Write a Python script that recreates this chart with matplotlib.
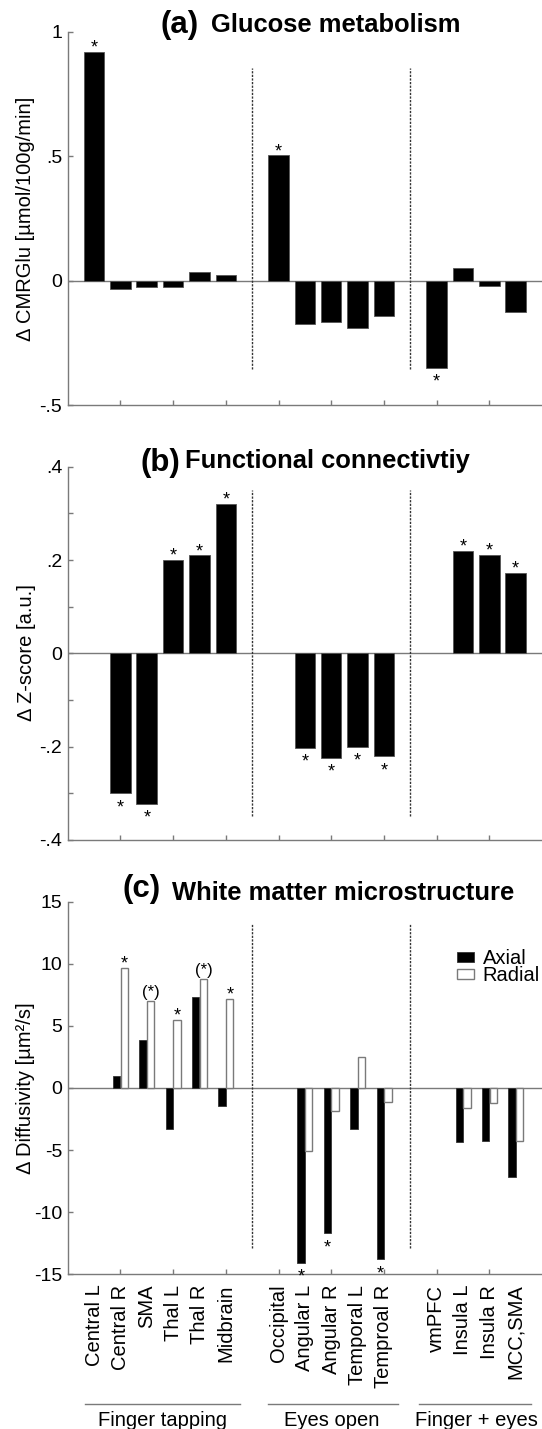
import numpy as np
import matplotlib
matplotlib.use("Agg")
import matplotlib.pyplot as plt
from matplotlib.transforms import blended_transform_factory
from matplotlib.patches import Patch

plt.rcParams['font.family'] = ['Liberation Sans', 'DejaVu Sans']

# Regions and their groups
regions = ["Central L", "Central R", "SMA", "Thal L", "Thal R", "Midbrain",
           "Occipital", "Angular L", "Angular R", "Temporal L", "Temproal R",
           "vmPFC", "Insula L", "Insula R", "MCC,SMA"]
groups = ["Finger tapping", "Eyes open", "Finger + eyes"]
group_sizes = [6, 5, 4]

# (a) glucose metabolism, delta CMRGlu
glucose = [0.918, -0.032, -0.025, -0.025, 0.037, 0.024,
           0.503, -0.173, -0.167, -0.190, -0.140,
           -0.349, 0.051, -0.023, -0.126]
glucose_sig = ["*", "", "", "", "", "",
               "*", "", "", "", "",
               "*", "", "", ""]

# (b) functional connectivity, delta z-score
fc = [np.nan, -0.300, -0.322, 0.200, 0.210, 0.321,
      np.nan, -0.202, -0.224, -0.200, -0.221,
      np.nan, 0.220, 0.211, 0.172]
fc_sig = ["", "*", "*", "*", "*", "*",
          "", "*", "*", "*", "*",
          "", "*", "*", "*"]

# (c) white matter, axial / radial diffusivity
axial = [np.nan, 1.0, 3.83, -3.33, 7.3, -1.47,
         np.nan, -14.1, -11.7, -3.33, -13.8,
         np.nan, -4.34, -4.26, -7.13]
radial = [np.nan, 9.65, 7.03, 5.47, 8.77, 7.18,
          np.nan, -5.07, -1.82, 2.47, -1.13,
          np.nan, -1.61, -1.18, -4.26]
axial_sig = ["", "", "", "", "", "",
             "", "*", "*", "", "*",
             "", "", "", ""]
radial_sig = ["", "*", "(*)", "*", "(*)", "*",
              "", "", "", "", "",
              "", "", "", ""]

# x positions: a gap between each group
pos = []
start = 1
for n in group_sizes:
    pos += list(range(start, start + n))
    start += n + 1
pos = np.array(pos, dtype=float)
sep = [7, 13]

GRAY = "#7a7a7a"

fig = plt.figure(figsize=(5.42, 14.29), dpi=100)
W, H = 542.0, 1429.0
left, width = 67.7 / W, 1 - 67.7 / W
ax_a = fig.add_axes([left, 1 - 405.3 / H, width, 373.6 / H])
ax_b = fig.add_axes([left, 1 - 840.0 / H, width, 373.3 / H])
ax_c = fig.add_axes([left, 1 - 1274.3 / H, width, 372.6 / H])


def style(ax, ylim, yticks, ylabels, sep_span):
    ax.set_xlim(0, 18)
    ax.set_ylim(*ylim)
    for s in ["top", "right"]:
        ax.spines[s].set_visible(False)
    for s in ["left", "bottom"]:
        ax.spines[s].set_color(GRAY)
        ax.spines[s].set_linewidth(1.0)
    ax.set_xticks(np.arange(2, 18, 2))
    ax.set_xticklabels([])
    ax.set_yticks(yticks)
    ax.set_yticklabels(ylabels)
    ax.tick_params(direction="in", length=3.5, width=1.0, color=GRAY,
                   labelsize=14, pad=4)
    ax.axhline(0, color=GRAY, lw=1.0, zorder=1)
    for x in sep:
        ax.plot([x, x], sep_span, color="#333333", lw=1.0,
                ls=(0, (1.6, 1.0)), zorder=2)


def mark(ax, x, y, txt, fs=13):
    if not txt:
        return
    if y > 0:
        off = 3.0 if txt.startswith("(") else -0.5
    else:
        off = -13.5
    ax.annotate(txt, xy=(x, y), xytext=(0, off), textcoords="offset points",
                ha="center", va="baseline", fontsize=fs)


# (a)
style(ax_a, (-0.5, 1.0), [-0.5, 0, 0.5, 1], ["-.5", "0", ".5", "1"],
      (-0.353, 0.854))
ax_a.bar(pos, glucose, width=0.78, color="black", edgecolor="#555555",
         lw=0.6, zorder=3)
for x, v, s in zip(pos, glucose, glucose_sig):
    mark(ax_a, x, v, s)

# (b)
b_ticks = np.round(np.arange(-0.4, 0.41, 0.1), 2)
b_labels = [".4" if t == 0.4 else ".2" if t == 0.2 else "0" if t == 0 else
            "-.2" if t == -0.2 else "-.4" if t == -0.4 else "" for t in b_ticks]
style(ax_b, (-0.4, 0.4), b_ticks, b_labels, (-0.348, 0.349))
ax_b.bar(pos, fc, width=0.78, color="black", edgecolor="#555555",
         lw=0.6, zorder=3)
for x, v, s in zip(pos, fc, fc_sig):
    if not np.isnan(v):
        mark(ax_b, x, v, s)

# (c)
style(ax_c, (-15, 15), [-15, -10, -5, 0, 5, 10, 15],
      ["-15", "-10", "-5", "0", "5", "10", "15"], (-12.85, 13.25))
bw = 0.28
ax_c.bar(pos - 0.14, axial, width=bw, color="black", edgecolor="#333333",
         lw=0.6, zorder=3, label="Axial")
ax_c.bar(pos + 0.15, radial, width=bw, color="white", edgecolor=GRAY,
         lw=1.0, zorder=3, label="Radial")
for x, v, s in zip(pos, axial, axial_sig):
    if not np.isnan(v):
        mark(ax_c, x - 0.14, v, s)
for x, v, s in zip(pos, radial, radial_sig):
    if not np.isnan(v):
        mark(ax_c, x + 0.15, v, s, fs=13 if s == "*" else 12)

handles = [Patch(facecolor="black", edgecolor="#333333", lw=0.6),
           Patch(facecolor="white", edgecolor=GRAY, lw=1.0)]
ax_c.legend(handles, ["Axial", "Radial"], loc="upper left",
            bbox_to_anchor=(0.82, 0.873), frameon=False, fontsize=14.5,
            handlelength=0.85, handleheight=0.35, handletextpad=0.45,
            labelspacing=-0.1, borderpad=0, borderaxespad=0)

# x labels on panel c only (minor ticks, kept even where a major tick sits)
ax_c.xaxis.remove_overlapping_locs = False
ax_c.set_xticks(pos, minor=True)
ax_c.set_xticklabels(regions, minor=True, rotation=90, fontsize=14.5)
ax_c.tick_params(axis="x", which="minor", length=0, pad=7.5)

# y labels
for ax, lab, yc in [(ax_a, "Δ CMRGlu [µmol/100g/min]", 218.5),
                    (ax_b, "Δ Z-score [a.u.]", 653.0),
                    (ax_c, "Δ Diffusivity [µm²/s]", 1088.0)]:
    fig.text(31.5 / W, 1 - yc / H, lab, rotation=90, rotation_mode="anchor",
             ha="center", va="baseline", fontsize=14.5)

# panel titles
titles = [("(a)", "Glucose metabolism", 198.8, 210.9, 33.5, 32.3),
          ("(b)", "Functional connectivtiy", 180.0, 185.0, 470.5, 467.7),
          ("(c)", "White matter microstructure", 160.7, 171.8, 896.8, 900.0)]
for tag, name, xr, xl, yb_tag, yb_name in titles:
    fig.text(xr / W, 1 - yb_tag / H, tag, ha="right", va="baseline",
             fontsize=22.5, fontweight="bold")
    fig.text(xl / W, 1 - yb_name / H, name, ha="left", va="baseline",
             fontsize=18.4, fontweight="bold")

# group brackets under the labels
tr = blended_transform_factory(ax_c.transData, fig.transFigure)
line_spans = [(0.65, 6.55), (7.6, 12.55), (13.33, 17.6)]
text_x = [3.6, 10.0, 15.5]
for (x0, x1), tx, g in zip(line_spans, text_x, groups):
    ax_c.plot([x0, x1], [1 - 1404 / H] * 2, color=GRAY, lw=1.0,
              transform=tr, clip_on=False)
    ax_c.text(tx, 1 - 1425.5 / H, g, transform=tr, ha="center",
              va="baseline", fontsize=14.5)

fig.savefig("out.png", dpi=100)
